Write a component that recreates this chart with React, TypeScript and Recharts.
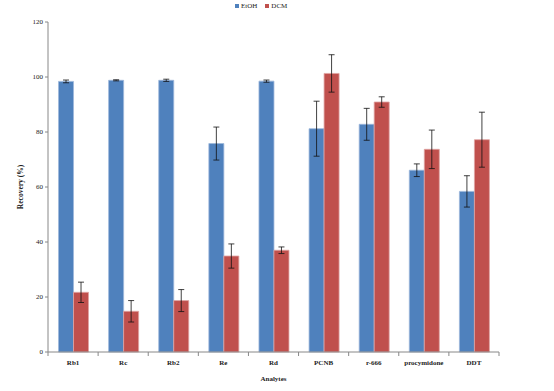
import { Bar, BarChart, ErrorBar, XAxis, YAxis } from "recharts";

const analytes = ["Rb1", "Rc", "Rb2", "Re", "Rd", "PCNB", "r-666", "procymidone", "DDT"];
const etoh = [98.4, 98.8, 98.8, 75.8, 98.5, 81.2, 82.8, 66.1, 58.4];
const etohErr = [0.5, 0.2, 0.4, 6.0, 0.4, 10.0, 5.8, 2.3, 5.7];
const dcm = [21.7, 14.8, 18.7, 34.9, 37.0, 101.3, 90.9, 73.7, 77.2];
const dcmErr = [3.7, 3.9, 4.0, 4.4, 1.2, 6.8, 1.9, 7.0, 10.0];
const yTicks = [0, 20, 40, 60, 80, 100, 120];

const BLUE = "#4f81bd";
const RED = "#c0504d";
const FONT = "'Liberation Serif', 'Times New Roman', serif";

const W = 554;
const H = 391;
const M = { top: 22, right: 55, bottom: 14, left: 0 };
const Y_AXIS_W = 48;
const plotW = W - M.left - M.right - Y_AXIS_W;
const band = plotW / analytes.length;

const data = analytes.map((name, i) => ({
  name,
  etoh: etoh[i],
  etohErr: etohErr[i],
  dcm: dcm[i],
  dcmErr: dcmErr[i],
}));

function CatTick({ x, y, payload, index }: any) {
  const left = x - band / 2;
  return (
    <g>
      <line x1={left} x2={left} y1={y - 8} y2={y - 4} stroke="#888" />
      {index === analytes.length - 1 && (
        <line x1={x + band / 2} x2={x + band / 2} y1={y - 8} y2={y - 4} stroke="#888" />
      )}
      <text x={x} y={y + 5} textAnchor="middle" fontSize={7} fontWeight="bold" fill="#222" fontFamily={FONT}>
        {payload.value}
      </text>
    </g>
  );
}

function LegendBox() {
  const items = [
    { label: "EtOH", color: BLUE },
    { label: "DCM", color: RED },
  ];
  return (
    <div style={{ position: "absolute", left: 235, top: 2, display: "flex", gap: 8, fontFamily: FONT, fontSize: 7, color: "#222" }}>
      {items.map((it) => (
        <span key={it.label} style={{ display: "flex", alignItems: "center", gap: 2 }}>
          <span style={{ width: 4, height: 4, background: it.color, display: "inline-block" }} />
          {it.label}
        </span>
      ))}
    </div>
  );
}

export default function App() {
  return (
    <div style={{ position: "absolute", left: 0, top: 0, width: W, height: H, background: "#fff" }}>
      <LegendBox />
      <BarChart width={W} height={H} data={data} margin={M} barCategoryGap="21%" barGap={0}>
        <XAxis
          dataKey="name"
          axisLine={{ stroke: "#888" }}
          tickLine={false}
          tick={<CatTick />}
          interval={0}
          height={25}
          label={{ value: "Analytes", position: "insideBottom", offset: -4, fontSize: 7, fontWeight: "bold", fill: "#222", fontFamily: FONT }}
        />
        <YAxis
          width={Y_AXIS_W}
          domain={[0, 120]}
          ticks={yTicks}
          interval={0}
          axisLine={{ stroke: "#888" }}
          tickLine={{ stroke: "#888" }}
          tickSize={3}
          tick={{ fontSize: 7, fill: "#222", fontFamily: FONT }}
          label={{ value: "Recovery (%)", angle: -90, position: "insideLeft", offset: 20, fontSize: 7.5, fontWeight: "bold", fill: "#222", fontFamily: FONT, style: { textAnchor: "middle" } }}
        />
        <Bar dataKey="etoh" fill={BLUE} stroke="#9db8da" strokeWidth={0.8} isAnimationActive={false}>
          <ErrorBar dataKey="etohErr" width={3} stroke="#111" strokeWidth={0.8} />
        </Bar>
        <Bar dataKey="dcm" fill={RED} stroke="#e0a3a2" strokeWidth={0.8} isAnimationActive={false}>
          <ErrorBar dataKey="dcmErr" width={3} stroke="#111" strokeWidth={0.8} />
        </Bar>
      </BarChart>
    </div>
  );
}
